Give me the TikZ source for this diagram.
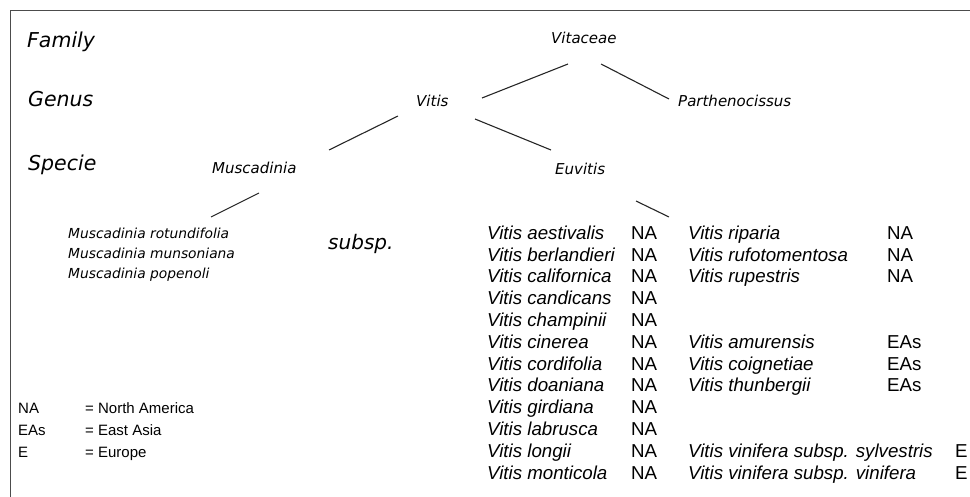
\documentclass[tikz,border=0pt]{standalone}
\usepackage{fontspec}
\setmainfont{DejaVu Sans}
\newfontfamily\arialf{Liberation Sans}
\begin{document}
\begin{tikzpicture}[x=1pt,y=-1pt,
  lvl/.style={anchor=base west,inner sep=0,font=\fontsize{20.5}{24}\selectfont\itshape},
  taxon/.style={anchor=base west,inner sep=0,font=\fontsize{15}{18}\selectfont\itshape},
  musc/.style={anchor=base west,inner sep=0,font=\fontsize{13.8}{16}\selectfont\itshape},
  sub/.style={anchor=base west,inner sep=0,font=\fontsize{20}{24}\selectfont\itshape},
  sp/.style={anchor=base west,inner sep=0,font=\arialf\fontsize{18.7}{22}\selectfont\itshape},
  reg/.style={anchor=base west,inner sep=0,font=\arialf\fontsize{18.7}{22}\selectfont},
  leg/.style={anchor=base west,inner sep=0,font=\arialf\fontsize{15}{18}\selectfont},
  conn/.style={draw=black!85,line width=1.1pt}]
\useasboundingbox (0,0) rectangle (970,497);
% frame
\draw[draw=black!70,line width=1.5pt] (10.5,497) -- (10.5,10.5) -- (970,10.5);
% level labels
\node[lvl] (family) at (27,48) {Family};
\node[lvl] (genus) at (28,107) {Genus};
\node[lvl] (specie) at (28,171) {Specie};
% taxa
\node[taxon] (vitaceae) at (551,44) {Vitaceae};
\node[taxon] (vitis) at (416,106.5) {Vitis};
\node[taxon] (parth) at (678,107) {Parthenocissus};
\node[taxon] (musc) at (212,174) {Muscadinia};
\node[taxon] (euvitis) at (555,175) {Euvitis};
% connector end points
\coordinate (c1a) at (568,64);  \coordinate (c1b) at (482,98);
\coordinate (c2a) at (601,64);  \coordinate (c2b) at (669,99);
\coordinate (c3a) at (398,116); \coordinate (c3b) at (329,150);
\coordinate (c4a) at (475,119); \coordinate (c4b) at (551,150);
\coordinate (c5a) at (259,193); \coordinate (c5b) at (211,217);
\coordinate (c6a) at (636,201); \coordinate (c6b) at (669,217);
\draw[conn] (c1a) -- (c1b);
\draw[conn] (c2a) -- (c2b);
\draw[conn] (c3a) -- (c3b);
\draw[conn] (c4a) -- (c4b);
\draw[conn] (c5a) -- (c5b);
\draw[conn] (c6a) -- (c6b);
% Muscadinia species
\node[musc] (m1) at (68,238.5) {Muscadinia rotundifolia};
\node[musc] (m2) at (68,258.5) {Muscadinia munsoniana};
\node[musc] (m3) at (68,278.5) {Muscadinia popenoli};
\node[sub] (subsp) at (328,250) {subsp.};
% legend
\node[leg] (l1) at (18,413) {NA};
\node[leg] (l2) at (18,435) {EAs};
\node[leg] (l3) at (18,457) {E};
\node[leg] (l1t) at (85,413) {= North America};
\node[leg] (l2t) at (85,435) {= East Asia};
\node[leg] (l3t) at (85,457) {= Europe};
% Vitis species, column 1
\foreach \i/\n in {1/aestivalis,2/berlandieri,3/californica,4/candicans,5/champinii,6/cinerea,7/cordifolia,8/doaniana,9/girdiana,10/labrusca,11/longii,12/monticola}{
  \node[sp] (a\i) at (487,{239.3+21.8*(\i-1)}) {Vitis \n};
  \node[reg] (ar\i) at (631,{239.3+21.8*(\i-1)}) {NA};
}
% column 2
\foreach \i/\n/\r/\x in {1/riparia/NA/887,2/rufotomentosa/NA/887,3/rupestris/NA/887,6/amurensis/EAs/887,7/coignetiae/EAs/887,8/thunbergii/EAs/887,11/vinifera subsp. sylvestris/E/955,12/vinifera subsp. vinifera/E/955}{
  \node[sp] (b\i) at (688,{239.3+21.8*(\i-1)}) {Vitis \n};
  \node[reg] (br\i) at (\x,{239.3+21.8*(\i-1)}) {\r};
}
\end{tikzpicture}
\end{document}
